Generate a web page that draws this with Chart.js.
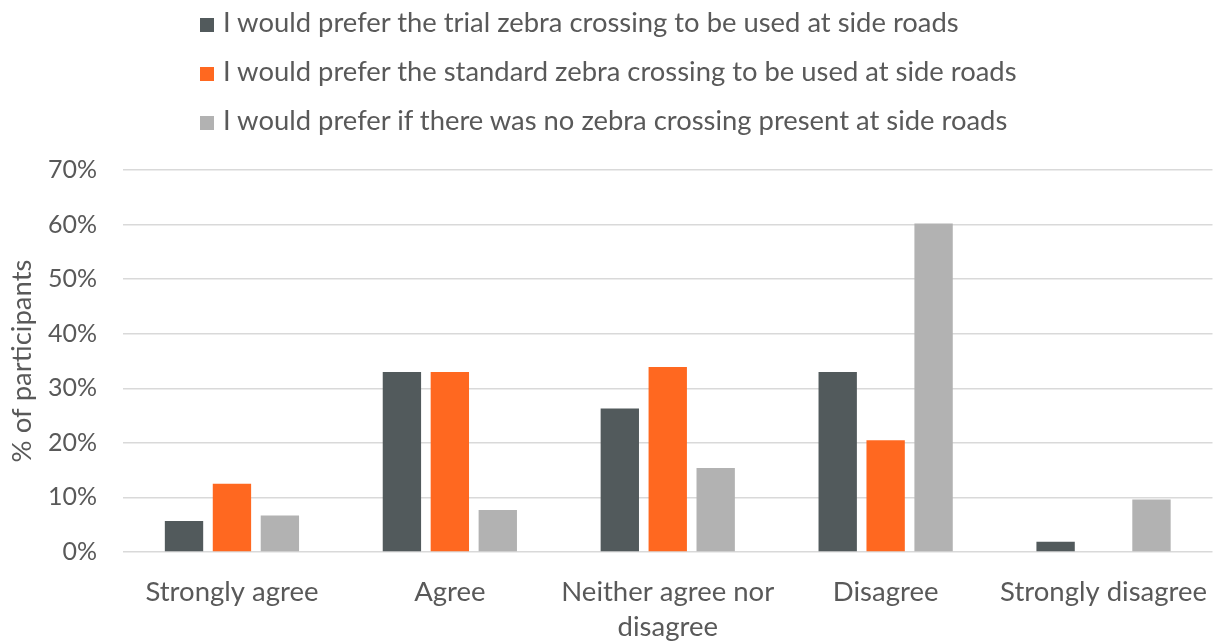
<!DOCTYPE html>
<html>
<head>
<meta charset="utf-8">
<script src="https://cdn.jsdelivr.net/npm/chart.js@4.4.1/dist/chart.umd.min.js"></script>
<style>
  html, body { margin: 0; padding: 0; background: #fff; }
  #wrap { position: relative; width: 1222px; height: 641px; }
  #legend { position: absolute; left: 200px; top: 4px; font-family: Lato, sans-serif; font-size: 27.4px; color: #595959; }
  #legend div { height: 49px; line-height: 36px; white-space: nowrap; }
  #legend span.box { display: inline-block; width: 14px; height: 14px; margin-right: 9px; vertical-align: 0px; }
</style>
</head>
<body>
<div id="wrap">
  <canvas id="chart" width="1222" height="641"></canvas>
  <div id="legend"></div>
</div>
<script>
var categories = ["Strongly agree", "Agree", ["Neither agree nor", "disagree"], "Disagree", "Strongly disagree"];
var seriesNames = [
    "I would prefer the trial zebra crossing to be used at side roads",
    "I would prefer the standard zebra crossing to be used at side roads",
    "I would prefer if there was no zebra crossing present at side roads"
];
var trialValues = [5.7, 33.0, 26.3, 33.0, 1.9];
var standardValues = [12.5, 33.0, 33.9, 20.5, 0];
var noneValues = [6.7, 7.7, 15.4, 60.2, 9.6];
var colors = ["#525A5C", "#FF6820", "#B2B2B2"];

var ctx = document.getElementById("chart").getContext("2d");
var chart = new Chart(ctx, {
    type: "bar",
    data: {
        labels: categories,
        datasets: [
            { label: seriesNames[0], data: trialValues, backgroundColor: colors[0] },
            { label: seriesNames[1], data: standardValues, backgroundColor: colors[1] },
            { label: seriesNames[2], data: noneValues, backgroundColor: colors[2] }
        ]
    },
    options: {
        responsive: false,
        animation: false,
        layout: { padding: { top: 170, right: 0, left: 0, bottom: 0 } },
        datasets: { bar: { categoryPercentage: 0.66, barPercentage: 0.8 } },
        scales: {
            x: {
                grid: { display: false },
                border: { display: false },
                afterFit: function (scale) {
                    scale.height = 89;
                },
                ticks: {
                    autoSkip: false,
                    color: "#595959",
                    font: { family: "Lato", size: 27.5, lineHeight: 1.27 },
                    maxRotation: 0,
                    padding: 15
                }
            },
            y: {
                min: 0,
                max: 70,
                afterFit: function (scale) {
                    scale.width = 123;
                },
                grid: { color: "#D9D9D9", lineWidth: 1.5, drawTicks: false },
                border: { display: false },
                title: { display: true, text: "% of participants", color: "#595959", font: { family: "Lato", size: 27.5 }, padding: 6 },
                ticks: {
                    stepSize: 10,
                    color: "#595959",
                    padding: 26,
                    font: { family: "Lato", size: 25 },
                    callback: function (value) {
                        return value + "%";
                    }
                }
            }
        },
        plugins: {
            legend: { display: false },
            tooltip: { enabled: false }
        }
    }
});

// legend as html, stacked like the original
var legendEl = document.getElementById("legend");
chart.data.datasets.forEach(function (ds) {
    var row = document.createElement("div");
    var box = document.createElement("span");
    box.className = "box";
    box.style.background = ds.backgroundColor;
    row.appendChild(box);
    row.appendChild(document.createTextNode(ds.label));
    legendEl.appendChild(row);
});
</script>
</body>
</html>
